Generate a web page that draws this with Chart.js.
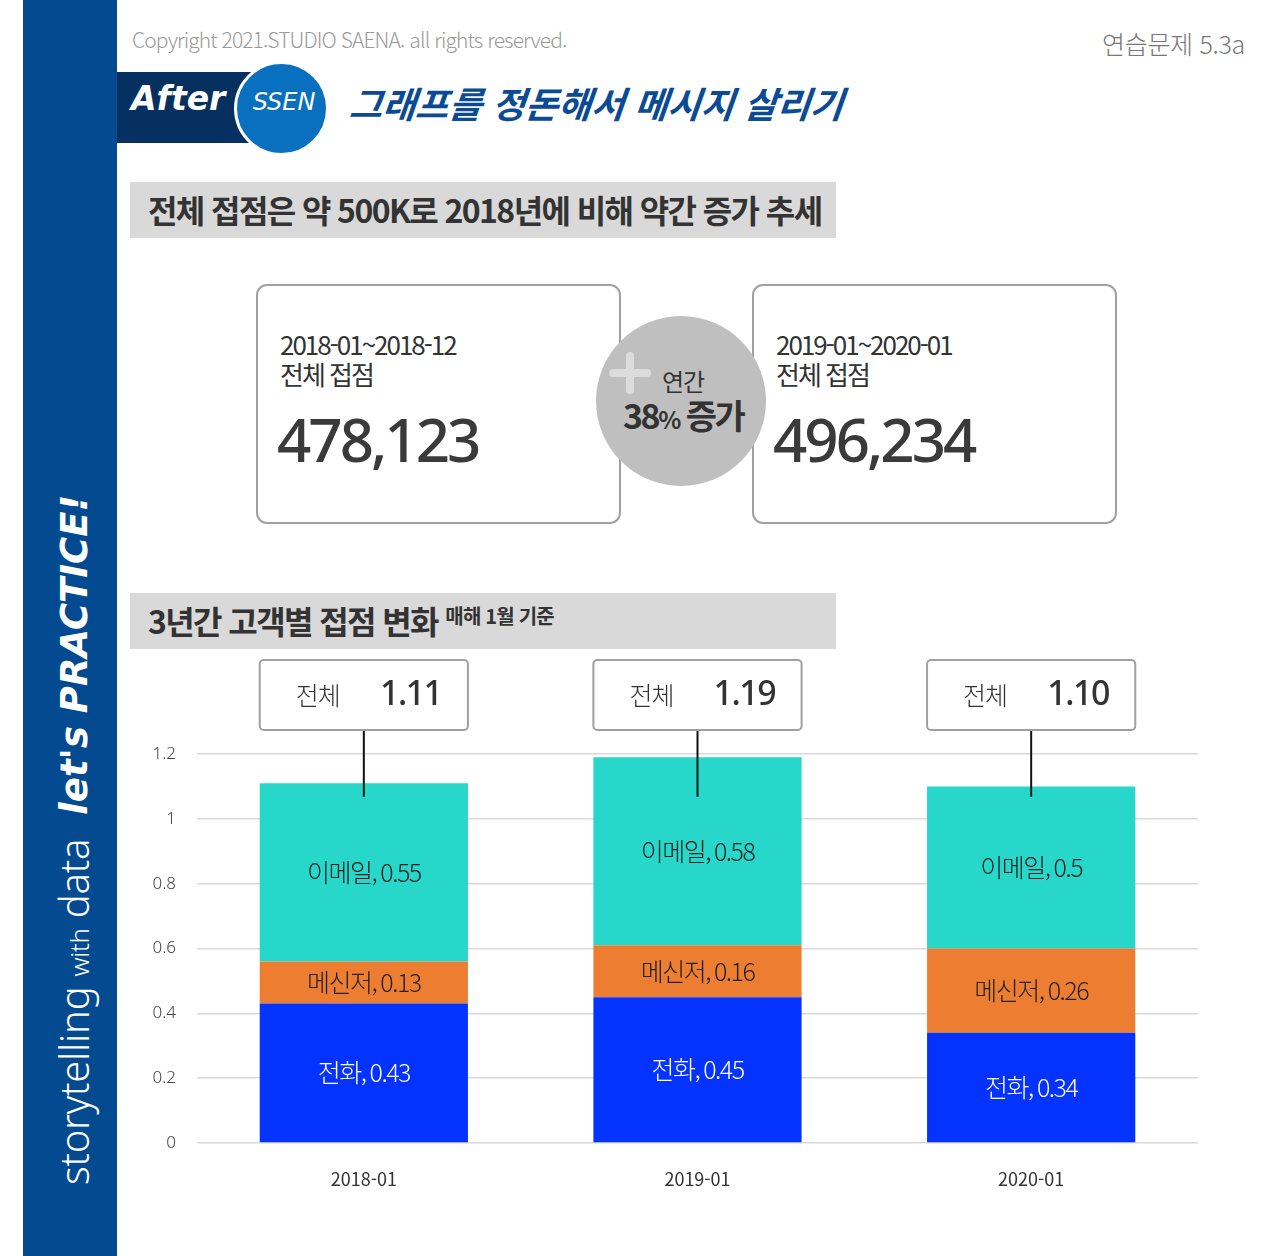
<!DOCTYPE html>
<html lang="ko">
<head>
<meta charset="utf-8">
<script src="https://cdn.jsdelivr.net/npm/chart.js@4.4.1/dist/chart.umd.min.js"></script>
<style>
  html,body{margin:0;padding:0;background:#fff;}
  body{width:1280px;height:1256px;position:relative;overflow:hidden;font-family:"Noto Sans CJK KR","Noto Sans",sans-serif;}
  .abs{position:absolute;}
  #banner{left:23px;top:0;width:94px;height:1256px;background:#034a90;}
  #vtext{left:46px;top:1185px;transform-origin:0 0;transform:rotate(-90deg);white-space:nowrap;color:#fff;display:flex;align-items:baseline;}
  #vtext .sw{font-family:"Noto Sans","DejaVu Sans",sans-serif;font-weight:300;font-size:40px;letter-spacing:-0.3px;}
  #vtext .sw small{font-size:26px;}
  #vtext .lp{font-family:"DejaVu Sans",sans-serif;font-style:italic;font-weight:bold;font-size:37px;margin-left:24px;letter-spacing:0px;transform:translateY(-2px);display:inline-block;}
  #copy{left:132px;top:24px;font-size:21px;color:#9a9a9a;font-weight:300;letter-spacing:-0.9px;font-family:"Noto Sans CJK KR",sans-serif;}
  #exnum{right:35px;top:25px;font-size:25px;color:#777;font-weight:300;letter-spacing:-0.3px;}
  #after{left:117px;top:72px;width:135px;height:71px;background:#05305f;}
  #afterTxt{left:131px;top:79px;color:#fff;font-family:"DejaVu Sans",sans-serif;font-style:italic;font-weight:bold;font-size:33px;letter-spacing:0px;}
  #circ{left:234px;top:61px;width:95px;height:95px;border-radius:50%;background:#0870bf;border:3px solid #fff;box-sizing:border-box;}
  #ssen{left:234px;top:88px;width:100px;text-align:center;color:#fff;font-family:"DejaVu Sans",sans-serif;font-style:italic;font-size:24px;}
  #htitle{left:350px;top:76px;color:#0b4a94;font-size:36px;font-weight:bold;font-style:italic;letter-spacing:0px;transform:skewX(-6deg);}
  .band{left:130px;width:706px;height:56px;background:#d9d9d9;}
  .band span{position:absolute;left:18px;top:4px;font-size:32px;font-weight:bold;color:#333;letter-spacing:-1.6px;white-space:nowrap;}
  .band small{font-size:20px;letter-spacing:-0.8px;position:relative;top:-10px;}
  .card{width:361px;height:236px;border:2px solid #a0a0a0;border-radius:11px;background:#fff;}
  .card .d{position:absolute;left:22px;top:43px;font-size:26px;color:#333;font-weight:400;letter-spacing:-2px;line-height:30px;}
  .card .n{position:absolute;left:19px;top:112px;font-size:60px;color:#3a3a3a;font-weight:500;letter-spacing:-3px;font-family:"Noto Sans","Roboto",sans-serif;}
  #bubble{left:596px;top:316px;width:170px;height:170px;border-radius:50%;background:#bfbfbf;}
  #plus1{left:609px;top:369px;width:42px;height:8px;background:#dcdcdc;border-radius:4px;}
  #plus2{left:626px;top:352px;width:8px;height:42px;background:#dcdcdc;border-radius:4px;}
  #yr{left:662px;top:363px;font-size:24px;color:#333;letter-spacing:-1px;}
  #pct{left:623px;top:390px;font-size:34px;color:#333;font-weight:bold;letter-spacing:-2.5px;white-space:nowrap;}
  #pct small{font-size:24px;font-weight:bold;}
  #chartWrap{left:130px;top:650px;width:1080px;height:560px;}
</style>
</head>
<body>
<div id="banner" class="abs"></div>
<div id="vtext" class="abs"><span class="sw">storytelling <small>with</small> data</span><span class="lp">let's PRACTICE!</span></div>
<div id="copy" class="abs">Copyright 2021.STUDIO SAENA. all rights reserved.</div>
<div id="exnum" class="abs">연습문제 5.3a</div>
<div id="after" class="abs"></div>
<div id="afterTxt" class="abs">After</div>
<div id="circ" class="abs"></div>
<div id="ssen" class="abs">SSEN</div>
<div id="htitle" class="abs">그래프를 정돈해서 메시지 살리기</div>

<div class="band abs" style="top:182px;"><span>전체 접점은 약 500K로 2018년에 비해 약간 증가 추세</span></div>

<div class="card abs" style="left:256px;top:284px;">
  <div class="d">2018-01~2018-12<br>전체 접점</div>
  <div class="n">478,123</div>
</div>
<div class="card abs" style="left:752px;top:284px;">
  <div class="d">2019-01~2020-01<br>전체 접점</div>
  <div class="n">496,234</div>
</div>
<div id="bubble" class="abs"></div>
<div id="plus1" class="abs"></div>
<div id="plus2" class="abs"></div>
<div id="yr" class="abs">연간</div>
<div id="pct" class="abs">38<small>%</small> 증가</div>

<div class="band abs" style="top:593px;"><span>3년간 고객별 접점 변화 <small>매해 1월 기준</small></span></div>

<div id="chartWrap" class="abs"><canvas id="c" width="1080" height="560"></canvas></div>

<script>
const categories = ["2018-01", "2019-01", "2020-01"];
const phone = [0.43, 0.45, 0.34];
const messenger = [0.13, 0.16, 0.26];
const email = [0.55, 0.58, 0.5];
const seriesNames = ["전화", "메신저", "이메일"];
const totalLabels = ["1.11", "1.19", "1.10"];
const yTicks = [0, 0.2, 0.4, 0.6, 0.8, 1, 1.2];

const FONT = '"Noto Sans CJK KR", "Noto Sans", sans-serif';

const segLabels = {
  id: 'segLabels',
  afterDatasetsDraw(chart) {
    const ctx = chart.ctx;
    ctx.save();
    ctx.textAlign = 'center';
    ctx.textBaseline = 'middle';
    ctx.font = '300 25px ' + FONT;
    try { ctx.letterSpacing = '-1.5px'; } catch(e) {}
    chart.data.datasets.forEach((ds, di) => {
      const meta = chart.getDatasetMeta(di);
      meta.data.forEach((bar, i) => {
        const mid = (bar.y + bar.base) / 2;
        ctx.fillStyle = di === 0 ? '#ffffff' : '#222222';
        ctx.fillText(seriesNames[di] + ', ' + ds.data[i], bar.x, mid);
      });
    });
    ctx.restore();
  }
};

const totalBoxes = {
  id: 'totalBoxes',
  afterDraw(chart) {
    const ctx = chart.ctx;
    const area = chart.chartArea;
    const top = chart.getDatasetMeta(2);
    const yS = chart.scales.y;
    ctx.save();
    top.data.forEach((bar, i) => {
      const w = bar.width;
      const x0 = bar.x - w / 2;
      const y0 = area.top - 94;
      const h = 70;
      ctx.strokeStyle = '#111';
      ctx.lineWidth = 2;
      ctx.beginPath();
      ctx.moveTo(bar.x, y0 + h);
      ctx.lineTo(bar.x, yS.getPixelForValue(1.068));
      ctx.stroke();
      ctx.fillStyle = '#fff';
      ctx.strokeStyle = '#a0a0a0';
      ctx.lineWidth = 2;
      ctx.beginPath();
      ctx.roundRect(x0, y0, w, h, 4);
      ctx.fill();
      ctx.stroke();
      ctx.textBaseline = 'middle';
      ctx.textAlign = 'center';
      ctx.fillStyle = '#333';
      ctx.font = '300 25px ' + FONT;
      try { ctx.letterSpacing = '-1px'; } catch(e) {}
      ctx.fillText('전체', x0 + 58, y0 + h / 2);
      ctx.font = '500 34px "Noto Sans", ' + FONT;
      try { ctx.letterSpacing = '-1.5px'; } catch(e) {}
      ctx.fillText(totalLabels[i], x0 + 151, y0 + h / 2);
    });
    ctx.restore();
  }
};

new Chart(document.getElementById('c'), {
  type: 'bar',
  data: {
    labels: categories,
    datasets: [
      { label: seriesNames[0], data: phone, backgroundColor: '#0433ff' },
      { label: seriesNames[1], data: messenger, backgroundColor: '#ed7d31' },
      { label: seriesNames[2], data: email, backgroundColor: '#27d7c9' }
    ]
  },
  options: {
    responsive: false,
    animation: false,
    devicePixelRatio: 1,
    layout: { padding: { top: 104, right: 12, left: 0, bottom: 0 } },
    plugins: { legend: { display: false }, tooltip: { enabled: false } },
    datasets: { bar: { barPercentage: 1, categoryPercentage: 0.624, borderWidth: 0 } },
    scales: {
      x: {
        stacked: true,
        grid: { display: false, drawTicks: false },
        border: { display: false },
        ticks: { color: '#333', padding: 25, font: { family: FONT, size: 18, weight: 400 } },
        afterFit(s) { s.height = 67; }
      },
      y: {
        stacked: true,
        min: 0, max: 1.2,
        afterBuildTicks(s) { s.ticks = yTicks.map(v => ({ value: v })); },
        grid: { color: '#d9d9d9', lineWidth: 1.5, drawTicks: false },
        border: { display: false },
        ticks: {
          color: '#444', padding: 21,
          font: { family: '"Noto Sans", sans-serif', size: 17, weight: 300 },
          callback: v => String(Math.round(v * 10) / 10)
        },
        afterFit(s) { s.width = 67; }
      }
    }
  },
  plugins: [segLabels, totalBoxes]
});
</script>
</body>
</html>
